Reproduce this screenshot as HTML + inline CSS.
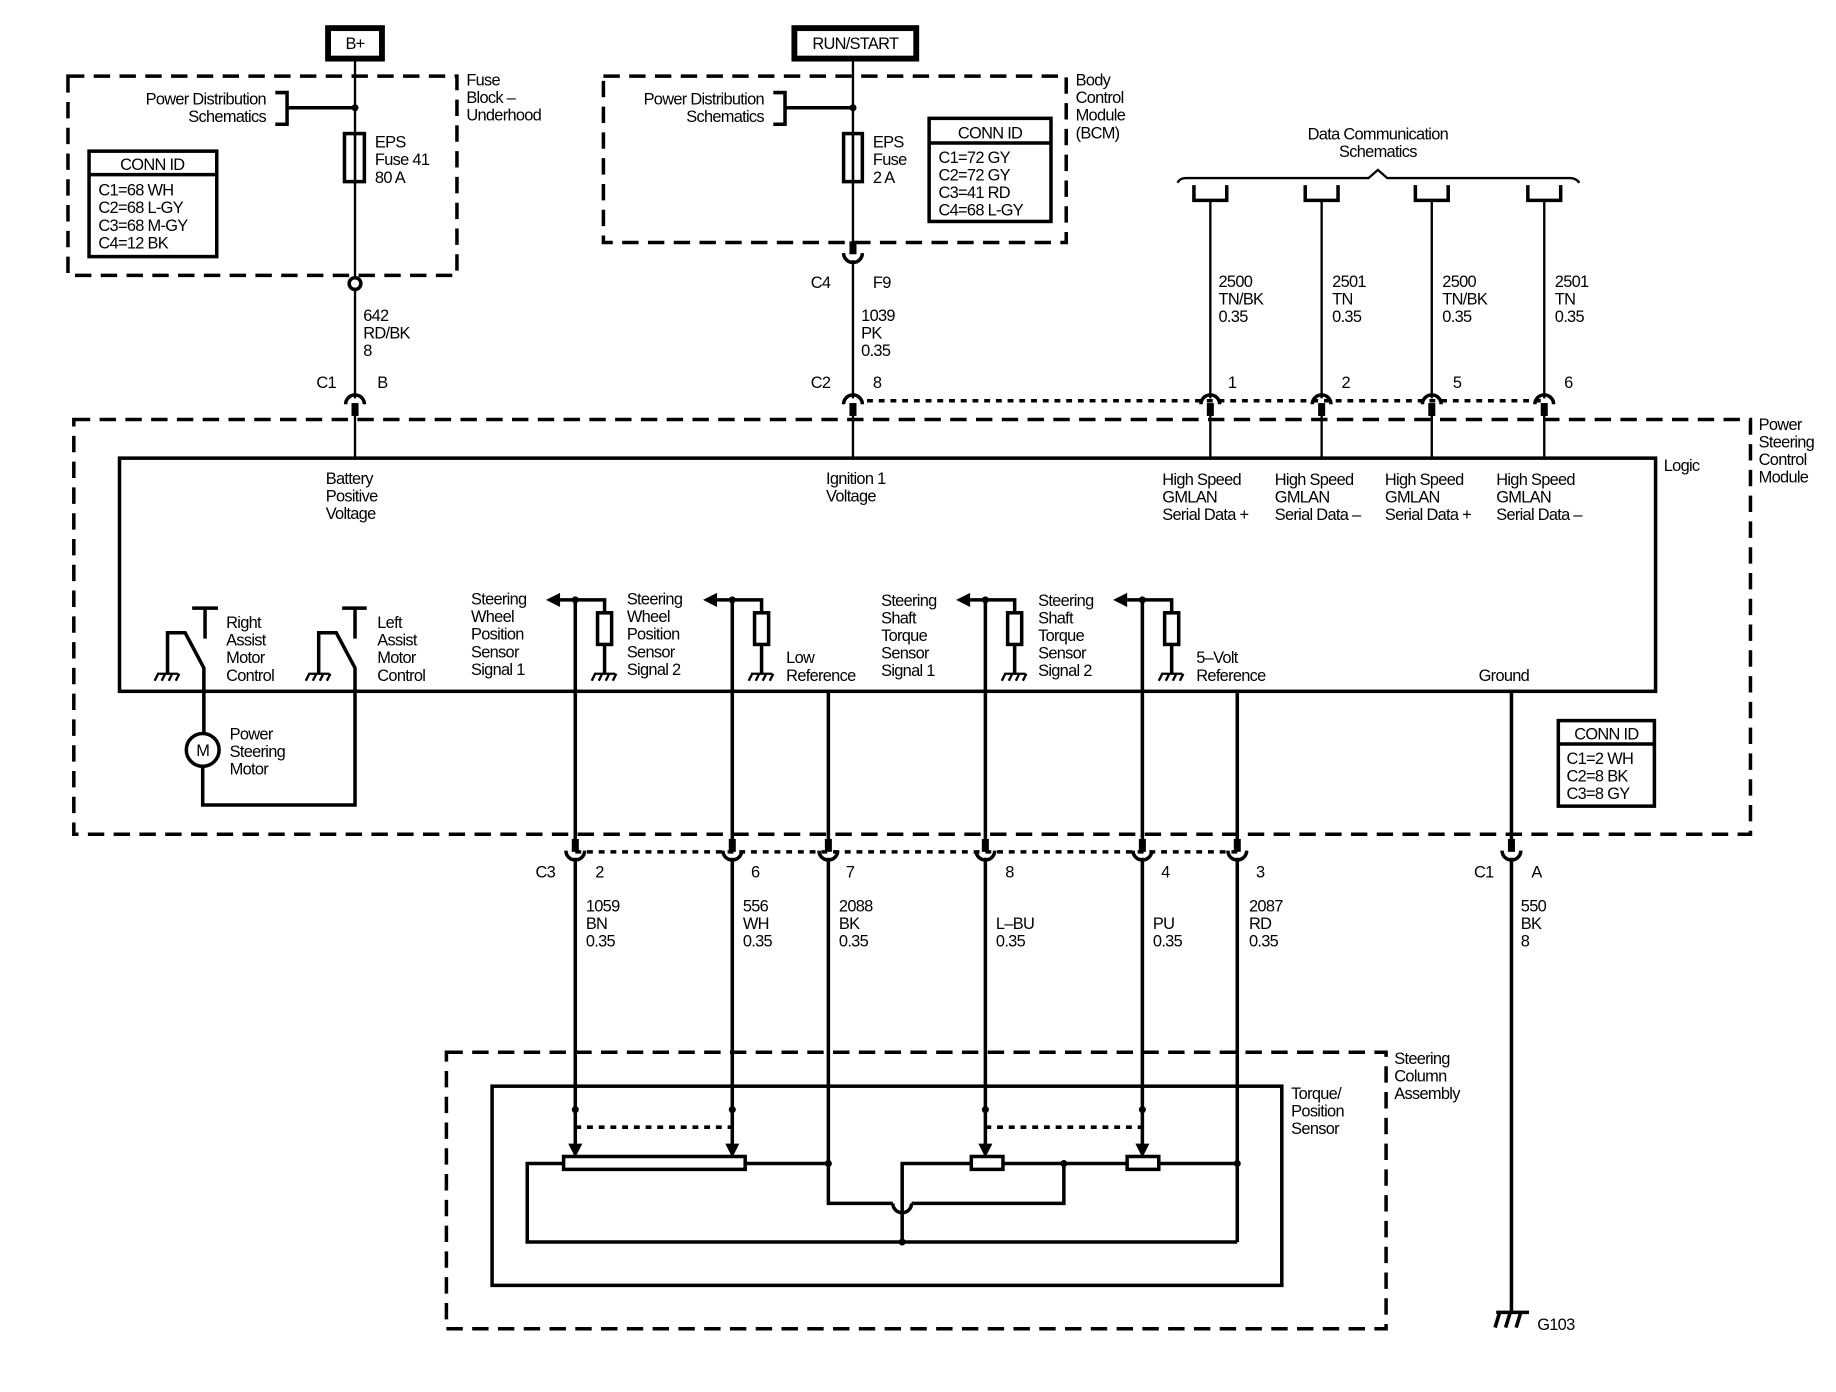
<!DOCTYPE html>
<html><head><meta charset="utf-8"><style>
html,body{margin:0;padding:0;background:#fff;}
svg{display:block;}
text{font-family:"Liberation Sans",sans-serif;font-size:14px;fill:#000;letter-spacing:-0.6px;}
.d{fill:none;stroke:#000;stroke-width:3;stroke-dasharray:14 8;}
.dt{fill:none;stroke:#000;stroke-width:3;stroke-dasharray:5 5;}
.w{fill:none;stroke:#000;stroke-width:3;}
.t{fill:none;stroke:#000;stroke-width:2;}
.k{stroke:#000;stroke-width:6;}
</style></head><body>
<svg width="1836" height="1392" viewBox="0 0 1567 1188" preserveAspectRatio="none">
<defs>
<g id="gnd"><path d="M-9 0H9M-8 0L-11 6M-2 0L-5 6M4 0L1 6M10 0L7 6" class="t"/></g>
<g id="cTop"><path d="M-8 6A8 8 0 0 1 8 6" class="w"/><line x1="0" y1="5" x2="0" y2="16" class="k"/></g>
<g id="cBot"><path d="M-8 -6A8 8 0 0 0 8 -6" class="w"/><line x1="0" y1="-5" x2="0" y2="-16" class="k"/></g>
</defs>

<rect x="280" y="24" width="46" height="26" fill="none" stroke="#000" stroke-width="5"/>
<text x="303" y="42" text-anchor="middle">B+</text>
<rect x="678" y="24" width="104" height="26" fill="none" stroke="#000" stroke-width="5"/>
<text x="730" y="42" text-anchor="middle">RUN/START</text>

<rect x="58" y="65" width="332" height="170" class="d"/>
<text x="398" y="73">Fuse</text><text x="398" y="88">Block –</text><text x="398" y="103">Underhood</text>
<line x1="303" y1="50" x2="303" y2="237" class="t"/>
<circle cx="303" cy="92" r="3"/>
<path d="M235 79H245V106H235M245 92H303" class="w"/>
<text x="227" y="89" text-anchor="end">Power Distribution</text>
<text x="227" y="104" text-anchor="end">Schematics</text>
<rect x="294" y="114" width="17" height="41" class="w"/>
<line x1="303" y1="114" x2="303" y2="155" class="t"/>
<text x="320" y="126">EPS</text><text x="320" y="141">Fuse 41</text><text x="320" y="156">80 A</text>
<rect x="76" y="129" width="109" height="90" class="w"/><line x1="76" y1="149" x2="185" y2="149" class="w"/>
<text x="130" y="145" text-anchor="middle">CONN ID</text>
<text x="84" y="167">C1=68 WH</text><text x="84" y="182">C2=68 L-GY</text><text x="84" y="197">C3=68 M-GY</text><text x="84" y="212">C4=12 BK</text>
<circle cx="303" cy="242" r="5" class="w" fill="#fff"/>
<line x1="303" y1="247" x2="303" y2="340" class="t"/>
<text x="310" y="274">642</text><text x="310" y="289">RD/BK</text><text x="310" y="304">8</text>
<text x="270" y="331">C1</text><text x="322" y="331">B</text>
<use href="#cTop" x="303" y="339"/>
<line x1="303" y1="355" x2="303" y2="391" class="t"/>

<rect x="515" y="65" width="395" height="142" class="d"/>
<text x="918" y="73">Body</text><text x="918" y="88">Control</text><text x="918" y="103">Module</text><text x="918" y="118">(BCM)</text>
<line x1="728" y1="52" x2="728" y2="207" class="t"/>
<circle cx="728" cy="92" r="3"/>
<path d="M660 79H670V106H660M670 92H728" class="w"/>
<text x="652" y="89" text-anchor="end">Power Distribution</text>
<text x="652" y="104" text-anchor="end">Schematics</text>
<rect x="720" y="114" width="16" height="41" class="w"/>
<line x1="728" y1="114" x2="728" y2="155" class="t"/>
<text x="745" y="126">EPS</text><text x="745" y="141">Fuse</text><text x="745" y="156">2 A</text>
<rect x="793" y="101" width="104" height="88" class="w"/><line x1="793" y1="122" x2="897" y2="122" class="w"/>
<text x="845" y="118" text-anchor="middle">CONN ID</text>
<text x="801" y="139">C1=72 GY</text><text x="801" y="154">C2=72 GY</text><text x="801" y="169">C3=41 RD</text><text x="801" y="184">C4=68 L-GY</text>
<use href="#cBot" x="728" y="222"/>
<line x1="728" y1="222" x2="728" y2="340" class="t"/>
<text x="692" y="246">C4</text><text x="745" y="246">F9</text>
<text x="735" y="274">1039</text><text x="735" y="289">PK</text><text x="735" y="304">0.35</text>
<text x="692" y="331">C2</text><text x="745" y="331">8</text>
<use href="#cTop" x="728" y="339"/>
<line x1="728" y1="355" x2="728" y2="391" class="t"/>
<line x1="740" y1="342" x2="1320" y2="342" class="dt"/>

<text x="1176" y="119" text-anchor="middle">Data Communication</text>
<text x="1176" y="134" text-anchor="middle">Schematics</text>
<path d="M1005 156Q1007 152 1012 152H1168L1176 145L1184 152H1340Q1345 152 1348 156" class="t"/>
<g class="w">
<path d="M1019 158V171H1047V158"/><path d="M1114 158V171H1142V158"/><path d="M1208 158V171H1236V158"/><path d="M1304 158V171H1332V158"/>
</g>
<g class="t">
<line x1="1033" y1="171" x2="1033" y2="340"/><line x1="1128" y1="171" x2="1128" y2="340"/><line x1="1222" y1="171" x2="1222" y2="340"/><line x1="1318" y1="171" x2="1318" y2="340"/>
<line x1="1033" y1="355" x2="1033" y2="391"/><line x1="1128" y1="355" x2="1128" y2="391"/><line x1="1222" y1="355" x2="1222" y2="391"/><line x1="1318" y1="355" x2="1318" y2="391"/>
</g>
<use href="#cTop" x="1033" y="339"/><use href="#cTop" x="1128" y="339"/><use href="#cTop" x="1222" y="339"/><use href="#cTop" x="1318" y="339"/>
<text x="1040" y="245">2500</text><text x="1040" y="260">TN/BK</text><text x="1040" y="275">0.35</text>
<text x="1137" y="245">2501</text><text x="1137" y="260">TN</text><text x="1137" y="275">0.35</text>
<text x="1231" y="245">2500</text><text x="1231" y="260">TN/BK</text><text x="1231" y="275">0.35</text>
<text x="1327" y="245">2501</text><text x="1327" y="260">TN</text><text x="1327" y="275">0.35</text>
<text x="1048" y="331">1</text><text x="1145" y="331">2</text><text x="1240" y="331">5</text><text x="1335" y="331">6</text>

<rect x="63" y="358" width="1431" height="354" class="d"/>
<text x="1501" y="367">Power</text><text x="1501" y="382">Steering</text><text x="1501" y="397">Control</text><text x="1501" y="412">Module</text>
<rect x="102" y="391" width="1311" height="199" class="w"/>
<text x="1420" y="402">Logic</text>
<text x="278" y="413">Battery</text><text x="278" y="428">Positive</text><text x="278" y="443">Voltage</text>
<text x="705" y="413">Ignition 1</text><text x="705" y="428">Voltage</text>
<g>
<text x="992" y="414">High Speed</text><text x="992" y="429">GMLAN</text><text x="992" y="444">Serial Data +</text>
<text x="1088" y="414">High Speed</text><text x="1088" y="429">GMLAN</text><text x="1088" y="444">Serial Data –</text>
<text x="1182" y="414">High Speed</text><text x="1182" y="429">GMLAN</text><text x="1182" y="444">Serial Data +</text>
<text x="1277" y="414">High Speed</text><text x="1277" y="429">GMLAN</text><text x="1277" y="444">Serial Data –</text>
</g>

<g class="w">
<path d="M164 519H186M175 519V545"/>
<path d="M143 575V540H158L174 570V626"/>
<path d="M292 519H313M303 519V545"/>
<path d="M272 575V540H287L303 570V687H173V654"/>
</g>
<use href="#gnd" x="143" y="575"/><use href="#gnd" x="272" y="575"/>
<circle cx="173" cy="640" r="14" class="w" fill="#fff"/>
<text x="173" y="645" text-anchor="middle">M</text>
<text x="193" y="536">Right</text><text x="193" y="551">Assist</text><text x="193" y="566">Motor</text><text x="193" y="581">Control</text>
<text x="322" y="536">Left</text><text x="322" y="551">Assist</text><text x="322" y="566">Motor</text><text x="322" y="581">Control</text>
<text x="196" y="631">Power</text><text x="196" y="646">Steering</text><text x="196" y="661">Motor</text>

<g id="sig">
<path d="M478 512H516V523M516 550V575M491 512V720" class="w"/>
<polygon points="466,512 478,506 478,518"/>
<circle cx="491" cy="512" r="3"/>
<rect x="510" y="523" width="12" height="27" class="w"/>
<use href="#gnd" x="516" y="575"/>
</g>
<use href="#sig" x="134"/>
<use href="#sig" x="350"/>
<use href="#sig" x="484"/>
<text x="402" y="516">Steering</text><text x="402" y="531">Wheel</text><text x="402" y="546">Position</text><text x="402" y="561">Sensor</text><text x="402" y="576">Signal 1</text>
<text x="535" y="516">Steering</text><text x="535" y="531">Wheel</text><text x="535" y="546">Position</text><text x="535" y="561">Sensor</text><text x="535" y="576">Signal 2</text>
<text x="752" y="517">Steering</text><text x="752" y="532">Shaft</text><text x="752" y="547">Torque</text><text x="752" y="562">Sensor</text><text x="752" y="577">Signal 1</text>
<text x="886" y="517">Steering</text><text x="886" y="532">Shaft</text><text x="886" y="547">Torque</text><text x="886" y="562">Sensor</text><text x="886" y="577">Signal 2</text>
<text x="671" y="566">Low</text><text x="671" y="581">Reference</text>
<text x="1021" y="566">5–Volt</text><text x="1021" y="581">Reference</text>
<text x="1262" y="581">Ground</text>
<g class="w"><line x1="707" y1="590" x2="707" y2="720"/><line x1="1056" y1="590" x2="1056" y2="720"/><line x1="1290" y1="590" x2="1290" y2="720"/></g>

<rect x="1330" y="615" width="82" height="73" class="w"/><line x1="1330" y1="635" x2="1412" y2="635" class="w"/>
<text x="1371" y="631" text-anchor="middle">CONN ID</text>
<text x="1337" y="652">C1=2 WH</text><text x="1337" y="667">C2=8 BK</text><text x="1337" y="682">C3=8 GY</text>

<line x1="491" y1="727" x2="1056" y2="727" class="dt"/>
<use href="#cBot" x="491" y="732"/><use href="#cBot" x="625" y="732"/><use href="#cBot" x="707" y="732"/><use href="#cBot" x="841" y="732"/><use href="#cBot" x="975" y="732"/><use href="#cBot" x="1056" y="732"/><use href="#cBot" x="1290" y="732"/>
<text x="457" y="749">C3</text>
<text x="508" y="749">2</text><text x="641" y="749">6</text><text x="722" y="749">7</text><text x="858" y="749">8</text><text x="991" y="749">4</text><text x="1072" y="749">3</text>
<text x="1258" y="749">C1</text><text x="1307" y="749">A</text>
<text x="500" y="778">1059</text><text x="500" y="793">BN</text><text x="500" y="808">0.35</text>
<text x="634" y="778">556</text><text x="634" y="793">WH</text><text x="634" y="808">0.35</text>
<text x="716" y="778">2088</text><text x="716" y="793">BK</text><text x="716" y="808">0.35</text>
<text x="850" y="793">L–BU</text><text x="850" y="808">0.35</text>
<text x="984" y="793">PU</text><text x="984" y="808">0.35</text>
<text x="1066" y="778">2087</text><text x="1066" y="793">RD</text><text x="1066" y="808">0.35</text>
<text x="1298" y="778">550</text><text x="1298" y="793">BK</text><text x="1298" y="808">8</text>

<rect x="381" y="898" width="802" height="236" class="d"/>
<text x="1190" y="908">Steering</text><text x="1190" y="923">Column</text><text x="1190" y="938">Assembly</text>
<rect x="420" y="927" width="674" height="170" class="w"/>
<text x="1102" y="938">Torque/</text><text x="1102" y="953">Position</text><text x="1102" y="968">Sensor</text>
<g class="w">
<line x1="491" y1="732" x2="491" y2="978"/><line x1="625" y1="732" x2="625" y2="978"/>
<line x1="841" y1="732" x2="841" y2="978"/><line x1="975" y1="732" x2="975" y2="978"/>
<line x1="1056" y1="732" x2="1056" y2="1060"/>
<line x1="1290" y1="732" x2="1290" y2="1120"/>
<path d="M707 732V1027H762M778 1027H908V993"/>
<path d="M762 1027A8 8 0 0 0 778 1027"/>
<path d="M481 993H450V1060H1056"/>
<path d="M636 993H707"/>
<path d="M770 1060V993H829M856 993H962M989 993H1056"/>
<rect x="481" y="987" width="155" height="11"/>
<rect x="829" y="987" width="27" height="11"/>
<rect x="962" y="987" width="27" height="11"/>
</g>
<line x1="491" y1="962" x2="625" y2="962" class="dt"/>
<line x1="841" y1="962" x2="975" y2="962" class="dt"/>
<g>
<polygon points="485,976 497,976 491,988"/><polygon points="619,976 631,976 625,988"/>
<polygon points="835,976 847,976 841,988"/><polygon points="969,976 981,976 975,988"/>
<circle cx="491" cy="947" r="3"/><circle cx="625" cy="947" r="3"/><circle cx="841" cy="947" r="3"/><circle cx="975" cy="947" r="3"/>
<circle cx="707" cy="993" r="3"/><circle cx="908" cy="993" r="3"/><circle cx="1056" cy="993" r="3"/><circle cx="770" cy="1060" r="3"/>
</g>

<g class="w"><path d="M1277 1120H1305M1280 1120L1276 1133M1289 1120L1285 1133M1298 1120L1294 1133"/></g>
<text x="1312" y="1135">G103</text>
</svg>
</body></html>
